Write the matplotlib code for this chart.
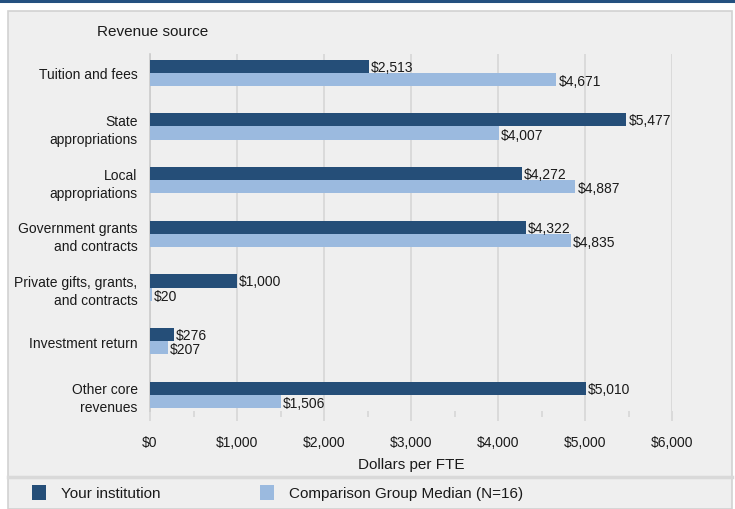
import matplotlib
matplotlib.use("Agg")
import matplotlib.pyplot as plt
import matplotlib.patches as patches
from matplotlib.lines import Line2D
import numpy as np

categories = [
    "Tuition and fees",
    "State\nappropriations",
    "Local\nappropriations",
    "Government grants\nand contracts",
    "Private gifts, grants,\nand contracts",
    "Investment return",
    "Other core\nrevenues",
]
your_inst = [2513, 5477, 4272, 4322, 1000, 276, 5010]
comp_median = [4671, 4007, 4887, 4835, 20, 207, 1506]
series_names = ["Your institution", "Comparison Group Median (N=16)"]

dark = "#254e78"
light = "#9bbadf"
panel = "#efefef"
edge = "#d2d2d2"
grid_c = "#d6d6d6"
txt = "#1a1a1a"

plt.rcParams["font.family"] = ["Liberation Sans", "DejaVu Sans"]

W, H = 735, 510
fig = plt.figure(figsize=(W / 100, H / 100), dpi=100)
fig.patch.set_facecolor("white")

# panel background and frame
fig.add_artist(patches.Rectangle((8 / W, 0), 724 / W, 498 / H, transform=fig.transFigure,
                                 facecolor=panel, edgecolor=edge, linewidth=1.2, zorder=0))
fig.add_artist(Line2D([0, 1], [1 - 1.5 / H, 1 - 1.5 / H], transform=fig.transFigure,
                      color="#24507f", linewidth=2.2))
fig.add_artist(Line2D([8 / W, 732 / W], [1 - 478 / H, 1 - 478 / H], transform=fig.transFigure,
                      color="#d9d9d9", linewidth=2.5))

ax = fig.add_axes([150 / W, 1 - 412 / H, 522 / W, 357 / H])
ax.set_facecolor(panel)

y = np.arange(len(categories))
h = 0.245
ax.barh(y - h / 2, your_inst, height=h, color=dark, zorder=3)
ax.barh(y + h / 2, comp_median, height=h, color=light, zorder=3)

for yi, v in zip(y, your_inst):
    ax.text(v + 25, yi - h / 2 + 0.01, f"${v:,}", ha="left", va="center", fontsize=10, color=txt, zorder=4)
for yi, v in zip(y, comp_median):
    ax.text(v + 25, yi + h / 2 + 0.03, f"${v:,}", ha="left", va="center", fontsize=10, color=txt, zorder=4)

ax.set_xlim(0, 6000)
ax.set_ylim(6.3, -0.35)
ax.set_xticks(np.arange(0, 6001, 1000))
ax.set_xticks(np.arange(500, 6000, 1000), minor=True)
ax.set_xticklabels([f"${v:,}" for v in range(0, 6001, 1000)], fontsize=10, color=txt)
ax.set_yticks(y)
ax.set_yticklabels(categories, fontsize=10, color=txt, linespacing=1.35)
ax.tick_params(axis="y", length=0, pad=9)
ax.tick_params(axis="x", which="major", length=7, color=grid_c, width=1.2, pad=10)
ax.tick_params(axis="x", which="minor", length=4, color=grid_c, width=1.2)
ax.grid(axis="x", color=grid_c, linewidth=1.2, zorder=1)
ax.set_axisbelow(True)
for s in ["top", "right", "bottom"]:
    ax.spines[s].set_visible(False)
ax.spines["left"].set_color("#cccccc")
ax.spines["left"].set_linewidth(1.2)
ax.set_xlabel("Dollars per FTE", fontsize=11, color=txt, labelpad=6)

fig.text(97 / W, 1 - 32 / H, "Revenue source", fontsize=11, color=txt, ha="left", va="center")

# legend
for x0, col, name in [(32, dark, series_names[0]), (260, light, series_names[1])]:
    fig.add_artist(patches.Rectangle((x0 / W, 1 - 501 / H), 14 / W, 15 / H,
                                     transform=fig.transFigure, facecolor=col, edgecolor="none"))
    fig.text((x0 + 29) / W, 1 - 494 / H, name, fontsize=11, color=txt, ha="left", va="center")

fig.savefig("out.png", dpi=100, facecolor="white")
